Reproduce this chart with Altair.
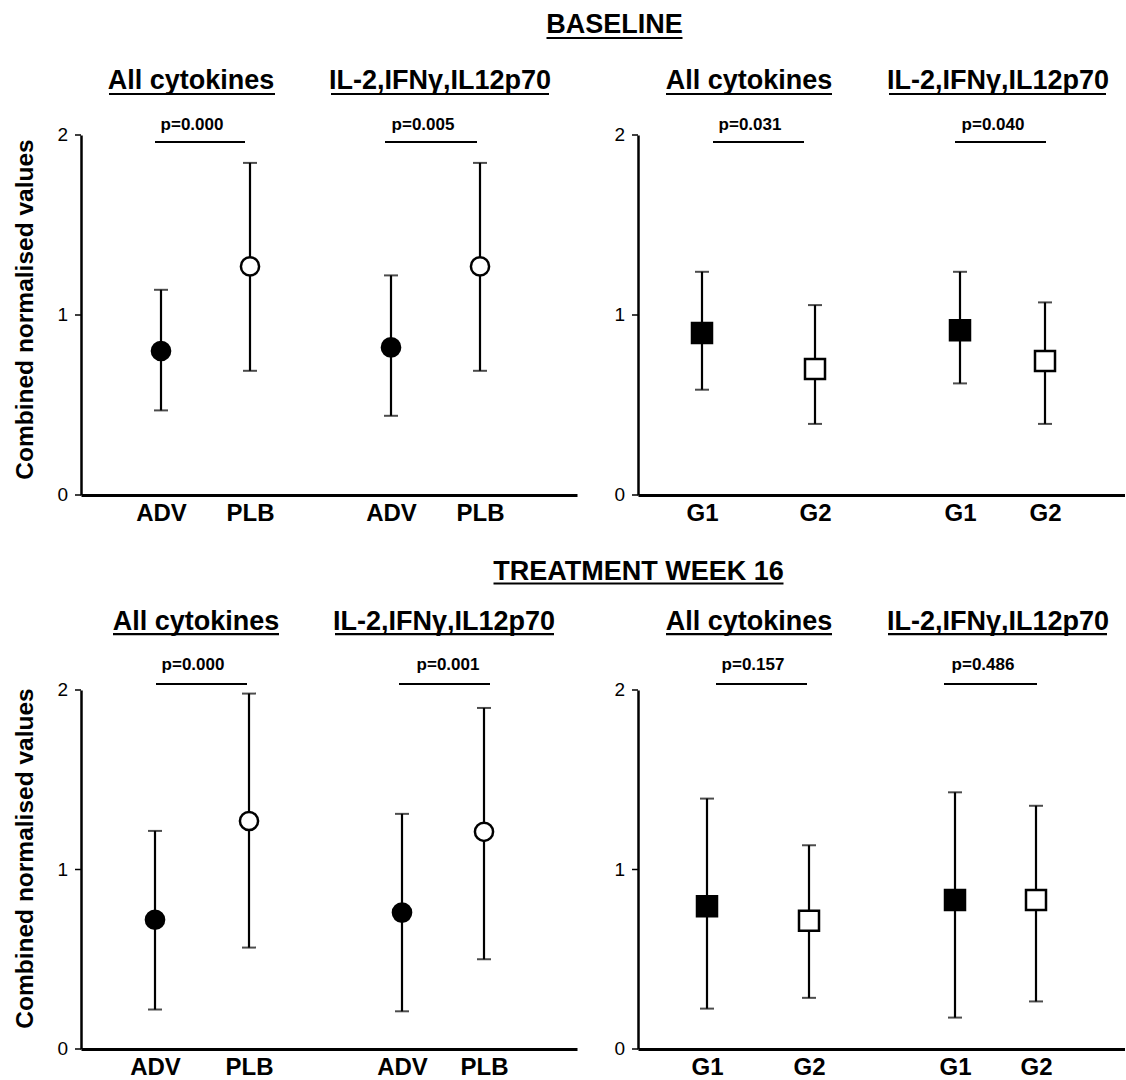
import altair as alt
import pandas as pd

FONT = "Liberation Sans"

# ---------------- data ----------------
groups = ["All cytokines", "IL-2,IFNγ,IL12p70"]
arms_treatment = ["ADV", "PLB"]
arms_genotype = ["G1", "G2"]
row_titles = ["BASELINE", "TREATMENT WEEK 16"]
y_title = "Combined normalised values"
y_ticks = [0, 1, 2]

# order of every list: [All-arm1, All-arm2, IL-arm1, IL-arm2]
base_treat_mean = [0.80, 1.27, 0.82, 1.27]
base_treat_low = [0.47, 0.69, 0.44, 0.69]
base_treat_high = [1.14, 1.845, 1.22, 1.845]
base_treat_p = ["p=0.000", "p=0.005"]

base_geno_mean = [0.90, 0.70, 0.915, 0.745]
base_geno_low = [0.585, 0.395, 0.62, 0.395]
base_geno_high = [1.24, 1.055, 1.24, 1.07]
base_geno_p = ["p=0.031", "p=0.040"]

wk16_treat_mean = [0.72, 1.27, 0.76, 1.21]
wk16_treat_low = [0.22, 0.565, 0.21, 0.50]
wk16_treat_high = [1.215, 1.98, 1.31, 1.90]
wk16_treat_p = ["p=0.000", "p=0.001"]

wk16_geno_mean = [0.795, 0.715, 0.83, 0.83]
wk16_geno_low = [0.225, 0.285, 0.175, 0.265]
wk16_geno_high = [1.395, 1.135, 1.43, 1.355]
wk16_geno_p = ["p=0.157", "p=0.486"]

# ---------------- layout (scale configuration) ----------------
LEFT_W, RIGHT_W = 496, 487
ROW_H = [360, 359]
H_SPACING, V_SPACING = 61, 195

# offsets (px along each x axis) of categories and annotations
PANEL_LAYOUT = {
    "TL": dict(cats=[80, 169, 310, 399], titles=[(27.5, 193.5), (249.5, 468.5)],
               plines=[(74, 164.5), (304.5, 395.5)], ptext=[111, 341.5]),
    "TR": dict(cats=[64, 177, 322, 407], titles=[(28, 194), (251, 468.5)],
               plines=[(75, 166), (317, 407.5)], ptext=[111.5, 355]),
    "BL": dict(cats=[74.5, 168, 321, 403], titles=[(32, 197.5), (254, 472.7)],
               plines=[(74.5, 166), (318, 408.6)], ptext=[111.6, 367]),
    "BR": dict(cats=[69, 171, 317, 398], titles=[(28, 194), (250, 469)],
               plines=[(77.6, 169), (306, 398.5)], ptext=[114.7, 344.8]),
}
# vertical placement of annotations, in px from the top of each plot area
ROW_LAYOUT = [
    dict(title=-102, title_ul=-97, sub=-45.7, sub_ul=-41, ptext=-5.5, pline=7,
         title_x=533.5, title_ul_x=(465.5, 601.5), y_title_y=174),
    dict(title=-110.5, title_ul=-106.5, sub=-60.4, sub_ul=-55.8, ptext=-19.7, pline=-5.9,
         title_x=557.5, title_ul_x=(412.5, 702.5), y_title_y=168),
]
TICK_LEN, TICK_PAD = 6, 7


def slot_domain(width, named):
    n = int(round(width)) + 1
    step = width / (n - 1)
    slots = [None] * n
    for name, px in named:
        i = max(0, min(n - 1, int(round(px / step))))
        while slots[i] is not None:
            i += 1
        slots[i] = name
    return [s if s is not None else f"~{k}" for k, s in enumerate(slots)]


def panel(means, lows, highs, arms, shape, pvals, lay, row, width, show_y_title, row_title=None):
    rl = ROW_LAYOUT[row]
    height = ROW_H[row]
    keys = [f"{g}|{a}" for g in range(2) for a in arms]
    named = list(zip(keys, lay["cats"]))
    for g in range(2):
        t0, t1 = lay["titles"][g]
        p0, p1 = lay["plines"][g]
        named += [(f"{g}|tc", (t0 + t1) / 2), (f"{g}|t0", t0), (f"{g}|t1", t1),
                  (f"{g}|pc", lay["ptext"][g]), (f"{g}|p0", p0), (f"{g}|p1", p1)]
    xs = alt.Scale(type="point", domain=slot_domain(width, named), padding=0)
    ys = alt.Scale(domain=[0, 2], nice=False, zero=True)

    df = pd.DataFrame({
        "key": keys,
        "group": [groups[0], groups[0], groups[1], groups[1]],
        "arm": arms * 2,
        "mean": means, "low": lows, "high": highs,
    })
    ann = pd.DataFrame({
        "group": groups, "pval": pvals,
        "tc": ["0|tc", "1|tc"], "t0": ["0|t0", "1|t0"], "t1": ["0|t1", "1|t1"],
        "pc": ["0|pc", "1|pc"], "p0": ["0|p0", "1|p0"], "p1": ["0|p1", "1|p1"],
    })
    ticks_df = pd.DataFrame({"v": y_ticks})

    x_axis = alt.Axis(values=keys, labelExpr="substring(datum.value, 2)", title=None,
                      labelOverlap=False)
    yk = dict(values=y_ticks, labels=False, ticks=False)
    if show_y_title:
        yk.update(title=y_title, titleY=rl["y_title_y"])
    else:
        yk.update(title=None)
    y_axis = alt.Axis(**yk)

    def X(field):
        return alt.X(field, scale=xs, axis=x_axis)

    def Y(field):
        return alt.Y(field, scale=ys, axis=y_axis)

    base = alt.Chart(df)
    err = base.mark_rule(color="black", strokeWidth=2.2).encode(
        x=X("key:N"), y=Y("low:Q"), y2="high:Q")
    cap_lo = base.mark_tick(color="black", size=14, thickness=2).encode(x=X("key:N"), y=Y("low:Q"))
    cap_hi = base.mark_tick(color="black", size=14, thickness=2).encode(x=X("key:N"), y=Y("high:Q"))
    size = 330 if shape == "circle" else 400
    pts = base.mark_point(shape=shape, filled=True, stroke="black", strokeWidth=2.5,
                          size=size, opacity=1, fillOpacity=1).encode(
        x=X("key:N"), y=Y("mean:Q"),
        fill=alt.Fill("arm:N", scale=alt.Scale(domain=arms, range=["black", "white"]), legend=None))

    # y-axis tick marks and tick labels, placed through the y scale
    tk = alt.Chart(ticks_df)
    ytick = tk.mark_rule(color="black", strokeWidth=1.5).encode(
        x=alt.value(-TICK_LEN), x2=alt.value(0), y=Y("v:Q"))
    ylab = tk.mark_text(font=FONT, fontSize=19, color="black", align="right",
                        baseline="middle").encode(
        x=alt.value(-TICK_LEN - TICK_PAD), y=Y("v:Q"), text=alt.Text("v:Q", format="d"))

    a = alt.Chart(ann)
    sub = a.mark_text(font=FONT, fontSize=27, fontWeight="bold", color="black",
                      align="center", baseline="alphabetic").encode(
        x=X("tc:N"), y=alt.value(rl["sub"]), text="group:N")
    sub_ul = a.mark_rule(color="black", strokeWidth=2.2).encode(
        x=X("t0:N"), x2="t1:N", y=alt.value(rl["sub_ul"]))
    ptxt = a.mark_text(font=FONT, fontSize=17, fontWeight="bold", color="black",
                       align="center", baseline="alphabetic").encode(
        x=X("pc:N"), y=alt.value(rl["ptext"]), text="pval:N")
    pline = a.mark_rule(color="black", strokeWidth=2).encode(
        x=X("p0:N"), x2="p1:N", y=alt.value(rl["pline"]))

    layers = [err, cap_lo, cap_hi, pts, ytick, ylab, sub, sub_ul, ptxt, pline]
    if row_title is not None:
        rt = alt.Chart(pd.DataFrame({"t": [row_title]}))
        layers.append(rt.mark_text(font=FONT, fontSize=27, fontWeight="bold", color="black",
                                   align="center", baseline="alphabetic").encode(
            text="t:N", x=alt.value(rl["title_x"]), y=alt.value(rl["title"])))
        layers.append(rt.mark_rule(color="black", strokeWidth=2.2).encode(
            x=alt.value(rl["title_ul_x"][0]), x2=alt.value(rl["title_ul_x"][1]),
            y=alt.value(rl["title_ul"])))
    return alt.layer(*layers).properties(width=width, height=height)


tl = panel(base_treat_mean, base_treat_low, base_treat_high, arms_treatment, "circle",
           base_treat_p, PANEL_LAYOUT["TL"], 0, LEFT_W, True, row_titles[0])
tr = panel(base_geno_mean, base_geno_low, base_geno_high, arms_genotype, "square",
           base_geno_p, PANEL_LAYOUT["TR"], 0, RIGHT_W, False)
bl = panel(wk16_treat_mean, wk16_treat_low, wk16_treat_high, arms_treatment, "circle",
           wk16_treat_p, PANEL_LAYOUT["BL"], 1, LEFT_W, True, row_titles[1])
br = panel(wk16_geno_mean, wk16_geno_low, wk16_geno_high, arms_genotype, "square",
           wk16_geno_p, PANEL_LAYOUT["BR"], 1, RIGHT_W, False)

chart = alt.concat(tl, tr, bl, br, columns=2, bounds="flush",
                   spacing=alt.RowColnumber(row=V_SPACING, column=H_SPACING)).properties(
    padding={"left": 12, "top": 11, "right": 0, "bottom": 0}
).configure_view(
    stroke=None
).configure_axisX(
    ticks=False, domainWidth=3, domainColor="black", labelFont=FONT, labelFontSize=24,
    labelFontWeight="bold", labelColor="black", labelPadding=6, labelAngle=0, grid=False
).configure_axisY(
    domainWidth=2.5, domainColor="black", grid=False,
    titleFont=FONT, titleFontSize=24.5, titleFontWeight="bold",
    titleColor="black", titlePadding=44
)

chart.save("out.html", embed_options={"renderer": "svg", "actions": False})
